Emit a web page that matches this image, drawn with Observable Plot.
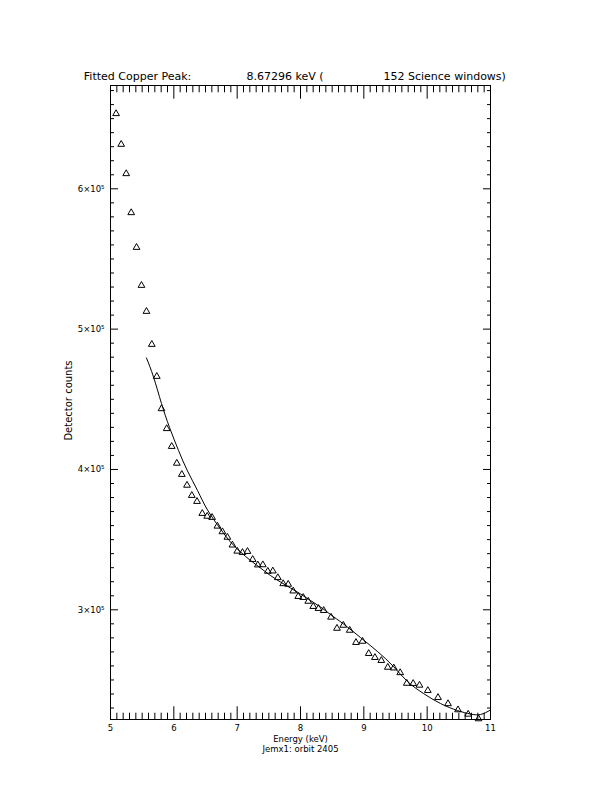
<!DOCTYPE html>
<html>
<head>
<meta charset="utf-8">
<script src="https://cdn.jsdelivr.net/npm/d3@7"></script>
<script src="https://cdn.jsdelivr.net/npm/@observablehq/plot@0.6"></script>
<style>
  html, body { margin: 0; padding: 0; background: #fff; }
  #chart svg { display: block; }
  g[aria-label="title"] text { letter-spacing: 0.5px; }
</style>
</head>
<body>
<div id="chart"></div>
<script>
// Measured spectrum (triangles)
const energy = [5.088, 5.169, 5.248, 5.327, 5.411, 5.489, 5.568, 5.652, 5.731, 5.805,
  5.887, 5.966, 6.047, 6.126, 6.208, 6.284, 6.366, 6.449, 6.527, 6.604,
  6.688, 6.767, 6.846, 6.925, 7.001, 7.084, 7.163, 7.245, 7.326, 7.405,
  7.484, 7.563, 7.642, 7.727, 7.806, 7.885, 7.964, 8.043, 8.122, 8.201,
  8.284, 8.366, 8.482, 8.576, 8.676, 8.777, 8.876, 8.979, 9.077, 9.175,
  9.276, 9.378, 9.473, 9.574, 9.678, 9.779, 9.879, 10.010, 10.171, 10.329,
  10.487, 10.648, 10.811];
const counts = [653530, 631650, 610760, 582970, 558230, 531150, 512620, 489100, 466290, 443270,
  429080, 416390, 404420, 396440, 388740, 381470, 377190, 368640, 366640, 365790,
  359590, 355600, 351670, 346120, 341770, 340840, 341550, 335850, 331930, 332070,
  327440, 327650, 322880, 318600, 318180, 313400, 309480, 308770, 306060, 302350,
  300930, 299500, 294730, 286810, 288950, 285390, 276690, 277550, 268850, 266000,
  263860, 259020, 258520, 255170, 247610, 247470, 246260, 242480, 237490, 233070,
  228720, 225590, 222310];

// Fitted model (solid line)
const fitEnergy = [5.568, 5.679, 5.805, 5.932, 6.074, 6.216, 6.374, 6.532, 6.737, 6.895,
  7.053, 7.211, 7.368, 7.526, 7.684, 7.842, 8.000, 8.158, 8.316, 8.474,
  8.679, 8.947, 9.216, 9.468, 9.689, 9.942, 10.211, 10.479, 10.684, 10.842, 11.000];
const fitCounts = [479470, 465930, 447040, 429940, 413540, 398930, 385030, 371130, 357590, 348330,
  341200, 335140, 329790, 324450, 319810, 315540, 311260, 306630, 302000, 296650,
  289880, 280260, 270280, 259590, 248900, 240340, 233210, 228220, 225730, 225380, 228580];

// Axes
const xMajorTicks = [5, 6, 7, 8, 9, 10, 11];
const yMajorTicks = [300000, 400000, 500000, 600000];
const xDomain = [5, 11];
const yDomain = [221830, 673610];

// Texts
const titleParts = ["Fitted Copper Peak:", "8.67296 keV (", "152 Science windows)"];
const xLabel = "Energy (keV)";
const caption = "Jemx1: orbit 2405";
const yLabel = "Detector counts";

const points = energy.map((e, i) => ({energy: e, counts: counts[i]}));
const fit = fitEnergy.map((e, i) => ({energy: e, counts: fitCounts[i]}));

const xMinorTicks = d3.range(50, 111).filter(d => d % 10 !== 0).map(d => d / 10);
const yMinorTicks = d3.range(23, 68).filter(d => d % 10 !== 0).map(d => d * 10000);

const chart = Plot.plot({
  width: 612,
  height: 792,
  marginLeft: 110,
  marginRight: 122,
  marginTop: 85,
  marginBottom: 73,
  style: {fontFamily: "DejaVu Sans", background: "white", color: "black"},
  x: {domain: xDomain},
  y: {domain: yDomain},
  marks: [
    Plot.frame({stroke: "black", strokeWidth: 1}),
    // bottom axis ticks (inward)
    Plot.axisX({anchor: "bottom", ticks: xMajorTicks, tickSize: -12.7, tickFormat: () => "", label: null}),
    Plot.axisX({anchor: "bottom", ticks: xMinorTicks, tickSize: -6.3, tickFormat: () => "", label: null}),
    // top axis ticks (inward)
    Plot.axisX({anchor: "top", ticks: xMajorTicks, tickSize: -12.7, tickFormat: () => "", label: null}),
    Plot.axisX({anchor: "top", ticks: xMinorTicks, tickSize: -6.3, tickFormat: () => "", label: null}),
    // left / right axis ticks (inward)
    Plot.axisY({anchor: "left", ticks: yMajorTicks, tickSize: -8, tickFormat: () => "", label: null}),
    Plot.axisY({anchor: "left", ticks: yMinorTicks, tickSize: -4, tickFormat: () => "", label: null}),
    Plot.axisY({anchor: "right", ticks: yMajorTicks, tickSize: -8, tickFormat: () => "", label: null}),
    Plot.axisY({anchor: "right", ticks: yMinorTicks, tickSize: -4, tickFormat: () => "", label: null}),
    // tick labels
    Plot.axisX({anchor: "bottom", ticks: xMajorTicks, tickSize: 0, tickPadding: 5, fontSize: 8.5,
      tickFormat: d => String(d), label: null}),
    Plot.axisY({anchor: "left", ticks: yMajorTicks, tickSize: 0, tickPadding: 6, fontSize: 8.5,
      tickFormat: d => `${d / 1e5}×10⁵`, label: null}),
    // data
    Plot.line(fit, {x: "energy", y: "counts", curve: "natural", stroke: "black", strokeWidth: 1}),
    Plot.dot(points, {x: "energy", y: "counts", symbol: "triangle", r: 2.5, stroke: "black", fill: "none", strokeWidth: 1}),
    // title
    Plot.text([titleParts[0]], {text: d => d, frameAnchor: "top-left", textAnchor: "start", lineAnchor: "middle",
      dx: -26.7, dy: -9.4, fontSize: 11, fill: "black", ariaLabel: "title"}),
    Plot.text([titleParts[1]], {text: d => d, frameAnchor: "top-left", textAnchor: "start", lineAnchor: "middle",
      dx: 136, dy: -9.4, fontSize: 11, fill: "black", ariaLabel: "title"}),
    Plot.text([titleParts[2]], {text: d => d, frameAnchor: "top-left", textAnchor: "start", lineAnchor: "middle",
      dx: 273, dy: -9.4, fontSize: 11, fill: "black", ariaLabel: "title"}),
    // axis titles / caption
    Plot.text([xLabel], {text: d => d, frameAnchor: "bottom", textAnchor: "middle", lineAnchor: "middle", dy: 20, fontSize: 8.5, fill: "black"}),
    Plot.text([caption], {text: d => d, frameAnchor: "bottom", textAnchor: "middle", lineAnchor: "middle", dy: 30, fontSize: 8.5, fill: "black"}),
    Plot.text([yLabel], {text: d => d, frameAnchor: "left", textAnchor: "middle", lineAnchor: "middle", rotate: -90, dx: -42, dy: -2, fontSize: 10, fill: "black"})
  ]
});

document.getElementById("chart").appendChild(chart);
</script>
</body>
</html>
